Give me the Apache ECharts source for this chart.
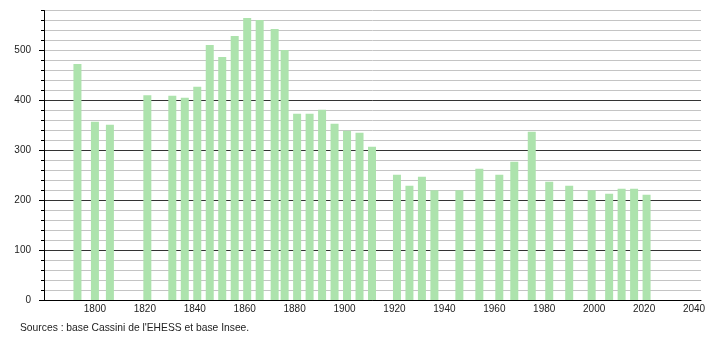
<!DOCTYPE html>
<html>
<head>
<meta charset="utf-8">
<script src="https://cdn.jsdelivr.net/npm/echarts@6/dist/echarts.min.js"></script>
<style>
html,body{margin:0;padding:0;background:#fff;}
#chart{width:710px;height:340px;}
</style>
</head>
<body>
<div id="chart"></div>
<script>
const years = [1793,1800,1806,1821,1831,1836,1841,1846,1851,1856,1861,1866,1872,1876,1881,1886,1891,1896,1901,1906,1911,1921,1926,1931,1936,1946,1954,1962,1968,1975,1982,1990,1999,2006,2011,2016,2021];
const population = [473,357,351,410,409,405,427,511,487,529,565,561,543,501,373,373,381,353,339,335,307,251,229,247,220,220,263,251,277,337,237,229,220,213,223,223,211];
const xTickLabels = [1800,1820,1840,1860,1880,1900,1920,1940,1960,1980,2000,2020,2040];
const yTickLabels = [0,100,200,300,400,500];
const sourceText = "Sources : base Cassini de l'EHESS et base Insee.";

const chart = echarts.init(document.getElementById('chart'), null, {renderer:'canvas'});
const fontFamily = '"Liberation Sans", Arial, sans-serif';
chart.setOption({
  animation: false,
  backgroundColor: '#ffffff',
  grid: {left: 44, right: 9, top: 10.5, bottom: 40, containLabel: false},
  xAxis: {
    type: 'value', min: 1779.6, max: 2042.8,
    axisLine: {show: true, lineStyle: {color: '#000', width: 1}},
    axisTick: {show: false},
    splitLine: {show: false},
    axisLabel: {
      color: '#222', fontSize: 10, fontFamily: fontFamily, margin: 4,
      customValues: xTickLabels,
      formatter: v => String(Math.round(v))
    }
  },
  yAxis: [{
    type: 'value', min: 0, max: 580, interval: 20,
    axisLine: {show: true, lineStyle: {color: '#000', width: 1}},
    axisTick: {show: true, length: 3, lineStyle: {color: '#000'}},
    axisLabel: {show: false},
    splitLine: {show: true, lineStyle: {color: '#c4c4c4', width: 1}}
  }, {
    type: 'value', min: 0, max: 580, interval: 100, position: 'left',
    axisLine: {show: false},
    axisTick: {show: true, length: 5, lineStyle: {color: '#000'}, customValues: yTickLabels},
    axisLabel: {color: '#222', fontSize: 10, fontFamily: fontFamily, margin: 13, customValues: yTickLabels},
    splitLine: {show: true, showMaxLine: false, lineStyle: {color: '#333', width: 1}}
  }],
  graphic: [{
    type: 'text', left: 20, top: 323.5,
    style: {text: sourceText, fill: '#222', font: '10.3px ' + fontFamily}
  }],
  series: [{
    type: 'bar', xAxisIndex: 0, yAxisIndex: 0, barWidth: 8,
    itemStyle: {color: '#ade3ad'},
    data: years.map((y, i) => [y, population[i]])
  }]
});
</script>
</body>
</html>
